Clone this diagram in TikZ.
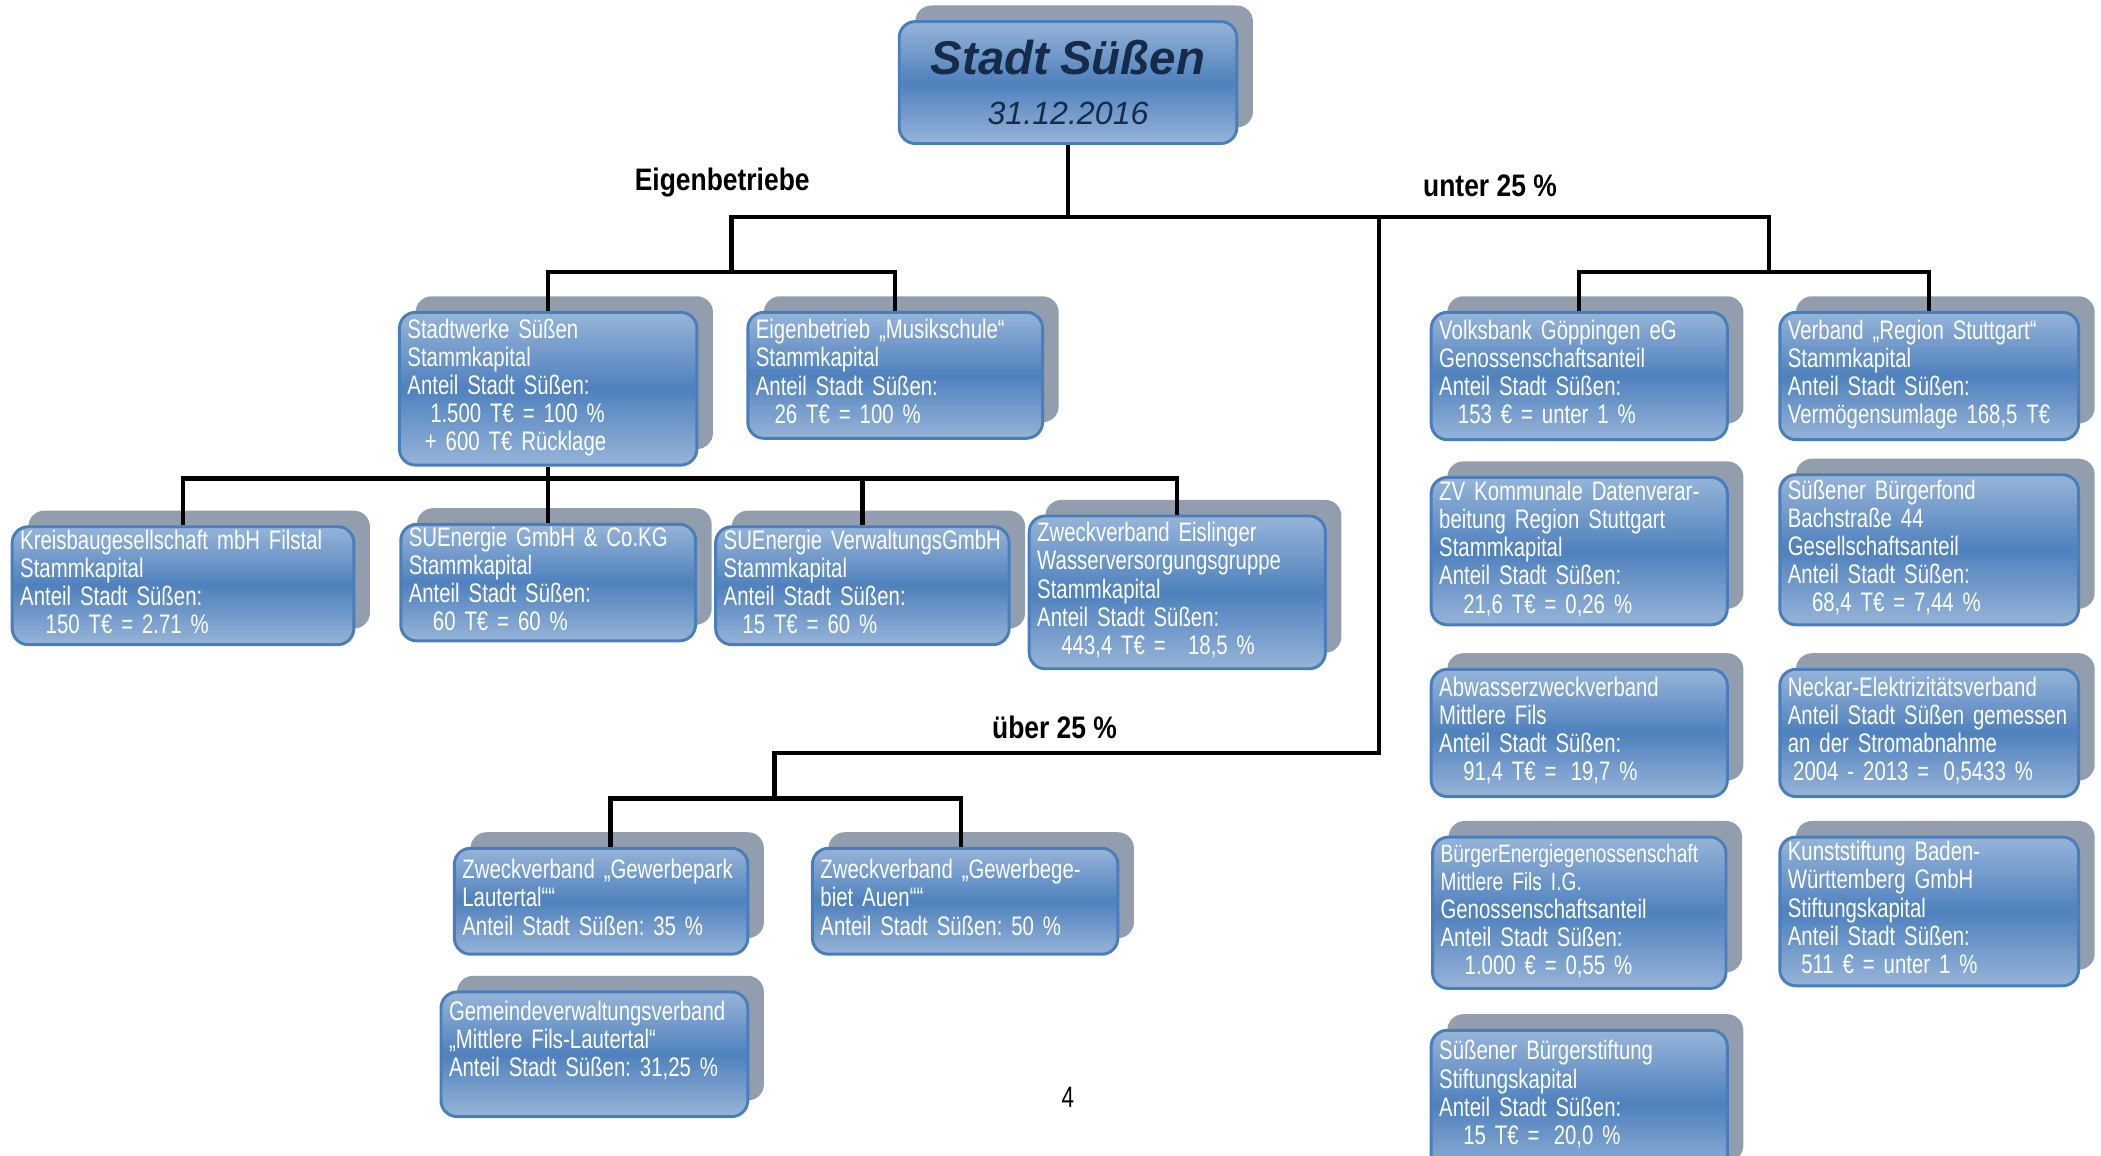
\documentclass[tikz,border=0pt]{standalone}
\usepackage{fontspec}
\setmainfont{Liberation Sans}
\newfontfamily\boxfont[FakeStretch=0.76, WordSpace=0.8]{Liberation Sans}
\newfontfamily\labelfont[FakeStretch=0.85]{Liberation Sans}
\usepackage{xcolor}
\usetikzlibrary{positioning,shadows}

\definecolor{boxlight}{RGB}{150,180,216}
\definecolor{boxdark}{RGB}{79,129,189}
\definecolor{boxedge}{RGB}{74,126,187}
\definecolor{shadowgray}{RGB}{146,158,173}
\definecolor{titlenavy}{RGB}{22,43,72}

\hyphenpenalty=10000
\exhyphenpenalty=10000
\frenchspacing

\begin{document}
\begin{tikzpicture}[
  x=0.5pt, y=-0.5pt,
  shadowbox/.style={draw=boxedge, line width=1.1pt, rounded corners=6pt,
    top color=boxlight, bottom color=boxlight, middle color=boxdark,
    general shadow={fill=shadowgray, shadow xshift=6pt, shadow yshift=6pt},
    anchor=north west, inner xsep=3pt, inner ysep=0pt},
  orgbox/.style={shadowbox, align=left, text=white,
    font=\boxfont\fontsize{10}{10.5}\selectfont,
    execute at begin node=\strut, execute at end node=\strut},
  rootbox/.style={shadowbox, align=center, text=titlenavy,
    font=\fontsize{12}{18.5}\selectfont},
  grouplabel/.style={font=\labelfont\bfseries\fontsize{11.6}{12}\selectfont, inner sep=0pt},
  pagenum/.style={font=\boxfont\fontsize{11}{12}\selectfont, inner sep=0pt},
  conn/.style={line width=1.6pt}
]
  \clip (0,0) rectangle (1568,862);

  \node[rootbox, text width=120pt, minimum height=45.5pt] (root) at (670,15)
    {{\fontsize{17.7}{18}\selectfont\bfseries\itshape Stadt Süßen}\\
     {\itshape 31.12.2016}};

  % Eigenbetriebe
  \node[orgbox, text width=105pt, minimum height=57pt] (stw) at (297,232)
    {Stadtwerke Süßen\\Stammkapital\\Anteil Stadt Süßen:\\
     \hspace*{8.5pt}1.500 T€ = 100 \%\\\hspace*{6.5pt}+ 600 T€ Rücklage};
  \node[orgbox, text width=104pt, minimum height=47pt] (musik) at (557,232)
    {Eigenbetrieb „Musikschule“\\Stammkapital\\Anteil Stadt Süßen:\\
     \hspace*{7pt}26 T€ = 100 \%};

  \node[orgbox, text width=121.5pt, minimum height=44pt] (kbg) at (8,392)
    {Kreisbaugesellschaft mbH Filstal\\Stammkapital\\Anteil Stadt Süßen:\\
     \hspace*{9.5pt}150 T€ = 2.71 \%};
  \node[orgbox, text width=104pt, minimum height=43.5pt, below=21pt of stw] (sue)
    {SUEnergie GmbH \& Co.KG\\Stammkapital\\Anteil Stadt Süßen:\\
     \hspace*{9pt}60 T€ = 60 \%};
  \node[orgbox, text width=103.5pt, minimum height=44pt] (suev) at (533,392)
    {SUEnergie VerwaltungsGmbH\\Stammkapital\\Anteil Stadt Süßen:\\
     \hspace*{7pt}15 T€ = 60 \%};
  \node[orgbox, text width=104.5pt, minimum height=57pt] (zve) at (767,384)
    {Zweckverband Eislinger\\Wasserversorgungsgruppe\\Stammkapital\\
     Anteil Stadt Süßen:\\\hspace*{9pt}443,4 T€ = \hspace*{5pt}18,5 \%};

  % unter 25 %
  \node[orgbox, text width=104.5pt, minimum height=47.5pt] (vbank) at (1067,232)
    {Volksbank Göppingen eG\\Genossenschaftsanteil\\Anteil Stadt Süßen:\\
     \hspace*{7pt}153 € = unter 1 \%};
  \node[orgbox, text width=105.5pt, minimum height=47.5pt, right=18.5pt of vbank] (vrs)
    {Verband „Region Stuttgart“\\Stammkapital\\Anteil Stadt Süßen:\\
     Vermögensumlage 168,5 T€};
  \node[orgbox, text width=104.5pt, minimum height=55pt, below=13pt of vbank] (zvkd)
    {ZV Kommunale Datenverar-\\beitung Region Stuttgart\\Stammkapital\\
     Anteil Stadt Süßen:\\\hspace*{9pt}21,6 T€ = 0,26 \%};
  \node[orgbox, text width=105.5pt, minimum height=56pt, below=12pt of vrs] (bfond)
    {Süßener Bürgerfond\\Bachstraße 44\\Gesellschaftsanteil\\
     Anteil Stadt Süßen:\\\hspace*{9pt}68,4 T€ = 7,44 \%};
  \node[orgbox, text width=104.5pt, minimum height=47.5pt, below=15.5pt of zvkd] (abw)
    {Abwasserzweckverband\\Mittlere Fils\\Anteil Stadt Süßen:\\
     \hspace*{9pt}91,4 T€ = \hspace*{2pt}19,7 \%};
  \node[orgbox, text width=105.5pt, minimum height=47.5pt, below=15.5pt of bfond] (nev)
    {Neckar-Elektrizitätsverband\\Anteil Stadt Süßen gemessen\\
     an der Stromabnahme\\\hspace*{2pt}2004 - 2013 = \hspace*{2pt}0,5433 \%};
  \node[orgbox, text width=103.5pt, minimum height=56.5pt, below=14pt of abw] (beg)
    {{\fontsize{9.4}{10}\selectfont BürgerEnergiegenossenschaft}\\
     {\fontsize{9.4}{10}\selectfont Mittlere Fils I.G.}\\Genossenschaftsanteil\\
     Anteil Stadt Süßen:\\\hspace*{9pt}1.000 € = 0,55 \%};
  \node[orgbox, text width=105.5pt, minimum height=55.5pt, below=14pt of nev] (kunst)
    {Kunststiftung Baden-\\Württemberg GmbH\\Stiftungskapital\\
     Anteil Stadt Süßen:\\\hspace*{5pt}511 € = unter 1 \%};
  \node[orgbox, text width=104.5pt, minimum height=55pt, below=14.5pt of beg] (bstift)
    {Süßener Bürgerstiftung\\Stiftungskapital\\Anteil Stadt Süßen:\\
     \hspace*{9pt}15 T€ = \hspace*{2pt}20,0 \%\rule[-8.7pt]{0pt}{1pt}};

  % über 25 %
  \node[orgbox, text width=103.5pt, minimum height=39.5pt] (lau) at (338,632)
    {Zweckverband „Gewerbepark\\Lautertal““\\Anteil Stadt Süßen: 35 \%};
  \node[orgbox, text width=108pt, minimum height=39.5pt, right=23pt of lau] (auen)
    {Zweckverband „Gewerbege-\\biet Auen““\\Anteil Stadt Süßen: 50 \%};
  \node[orgbox, text width=108.5pt, minimum height=46.5pt, below=13pt of lau, xshift=-2.5pt] (gvv)
    {Gemeindeverwaltungsverband\\„Mittlere Fils-Lautertal“\\
     Anteil Stadt Süßen: 31,25 \%\rule[-11.6pt]{0pt}{1pt}};

  \node[grouplabel] (eigLabel) at (539,136) {Eigenbetriebe};
  \node[grouplabel] (untLabel) at (1112,139) {unter 25 \%};
  \node[grouplabel] (uebLabel) at (787,543) {über 25 \%};
  \node[pagenum] (pageNo) at (797,819) {4};

  % connectors
  \coordinate (eigJ) at (546,162);
  \coordinate (eigB) at (546,203);
  \coordinate (untJ) at (1320,162);
  \coordinate (untB) at (1320,203);
  \coordinate (uebJ) at (1029,162);
  \coordinate (uebB) at (1029,562);
  \coordinate (uebC) at (578,562);
  \coordinate (uebD) at (578,596);
  \coordinate (stwB) at (0,357);

  \draw[conn] (root.south) -- (root.south |- eigJ);
  \draw[conn] (eigB) -- (eigJ) -- (untJ) -- (untB);
  \draw[conn] (stw.north) |- (eigB) -| (musik.north);
  \draw[conn] (vbank.north) |- (untB) -| (vrs.north);
  \draw[conn] (kbg.north) |- (stwB -| zve.north) -- (zve.north);
  \draw[conn] (stw.south) -- (sue.north);
  \draw[conn] (suev.north) -- (suev.north |- stwB);
  \draw[conn] (uebJ) -- (uebB) -- (uebC) -- (uebD);
  \draw[conn] ([xshift=3.5pt]lau.north) |- (uebD) -| ([xshift=-1.5pt]auen.north);
\end{tikzpicture}
\end{document}
